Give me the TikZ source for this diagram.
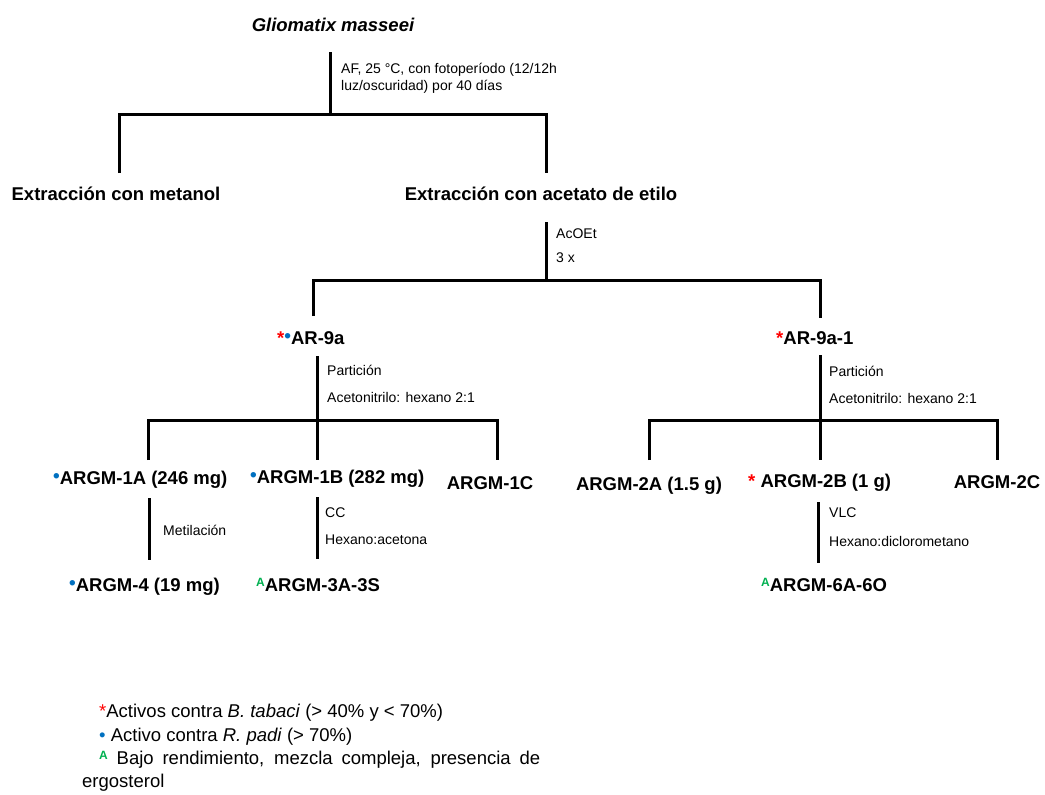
\documentclass[tikz,border=0pt]{standalone}
\usepackage{fontspec}
\setmainfont{Liberation Sans}
\definecolor{mkred}{RGB}{255,0,0}
\definecolor{mkblue}{RGB}{0,112,192}
\definecolor{mkgreen}{RGB}{0,176,80}
\newcommand{\mstar}{\textcolor{mkred}{*}}
\newcommand{\mdot}{\textcolor{mkblue}{\raisebox{2pt}{\fontsize{19}{19}\selectfont •}}}
\newcommand{\mA}{\textcolor{mkgreen}{\raisebox{5pt}{\fontsize{12}{12}\selectfont\bfseries A}}}
\begin{document}
\begin{tikzpicture}[x=1pt,y=-1pt,
  tree/.style={line width=3pt},
  big/.style={font=\fontsize{18.5}{22}\selectfont\bfseries, inner sep=0pt},
  small/.style={font=\fontsize{14}{17}\selectfont, inner sep=0pt, anchor=west},
  leg/.style={font=\fontsize{18.5}{23}\selectfont, inner sep=0pt, anchor=west}]
\useasboundingbox (0,0) rectangle (1045,795);

% ---- labels ----
\node[big, font=\fontsize{18.5}{22}\selectfont\bfseries\itshape] (g) at (333,25) {Gliomatix masseei};
\node[small] (af1) at (341,70) {AF, 25 °C, con fotoperíodo (12/12h};
\node[small] (af2) at (341,87) {luz/oscuridad) por 40 días};
\node[big] (met) at (116,194) {Extracción con metanol};
\node[big] (ace) at (541,194) {Extracción con acetato de etilo};
\node[small] (acoet) at (556,234) {AcOEt};
\node[small] (tres) at (556,258) {3 x};
\node[big, anchor=west] (ar9a) at (277,338) {\mstar\mdot AR-9a};
\node[big, anchor=west] (ar9a1) at (776,338) {\mstar AR-9a-1};
\node[small] (p1) at (327,370) {Partición};
\node[small] (p1b) at (327,397) {Acetonitrilo: hexano 2:1};
\node[small] (p2) at (829,371) {Partición};
\node[small] (p2b) at (829,398) {Acetonitrilo: hexano 2:1};
\node[big, anchor=west] (a1a) at (53,480) {\mdot ARGM-1A (246 mg)};
\node[big, anchor=west] (a1b) at (250,479) {\mdot ARGM-1B (282 mg)};
\node[big] (a1c) at (490,483) {ARGM-1C};
\node[big] (a2a) at (649,486) {ARGM-2A (1.5 g)};
\node[big, anchor=west] (a2b) at (748,483) {\mstar\ ARGM-2B (1 g)};
\node[big] (a2c) at (997,482) {ARGM-2C};
\node[small] (metil) at (163,530) {Metilación};
\node[small] (cc) at (325,513) {CC};
\node[small] (hexa) at (325,540) {Hexano:acetona};
\node[small] (vlc) at (829,513) {VLC};
\node[small] (hexd) at (829,541) {Hexano:diclorometano};
\node[big, anchor=west] (a4) at (69,587) {\mdot ARGM-4 (19 mg)};
\node[big, anchor=west] (a3) at (256,585) {\mA ARGM-3A-3S};
\node[big, anchor=west] (a6) at (761,585) {\mA ARGM-6A-6O};

% ---- legend ----
\node[leg] (l1) at (99,713) {\mstar Activos contra \textit{B. tabaci} (> 40\% y < 70\%)};
\node[leg] (l2) at (99,737) {\textcolor{mkblue}{•} Activo contra \textit{R. padi} (> 70\%)};
\node[leg] (l3) at (99,760) {\makebox[441pt][s]{\mA\ Bajo rendimiento, mezcla compleja, presencia de}};
\node[leg] (l4) at (82,783) {ergosterol};

% ---- connector points ----
\coordinate (t0) at (330,52);
\coordinate (j1) at (330,114);
\coordinate (k1) at (119,173);
\coordinate (k2) at (546,173);
\coordinate (t1) at (546,222);
\coordinate (j2) at (546,280);
\coordinate (k3) at (313,316);
\coordinate (k4) at (820,318);
\coordinate (t2) at (317,356);
\coordinate (j3) at (317,420);
\coordinate (k5) at (148,460);
\coordinate (k6) at (317,460);
\coordinate (k7) at (497,460);
\coordinate (t3) at (820,355);
\coordinate (j4) at (820,420);
\coordinate (k8) at (649,460);
\coordinate (k9) at (820,460);
\coordinate (k10) at (997,460);
\coordinate (s1) at (149,498);
\coordinate (e1) at (149,560);
\coordinate (s2) at (317,497);
\coordinate (e2) at (317,559);
\coordinate (s3) at (818,502);
\coordinate (e3) at (818,563);

% ---- connectors ----
\draw[tree] (t0) -- (j1);
\draw[tree] (k1) |- (j1) -| (k2);
\draw[tree] (t1) -- (j2);
\draw[tree] (k3) |- (j2) -| (k4);
\draw[tree] (t2) -- (j3);
\draw[tree] (k5) |- (j3) -| (k7);
\draw[tree] (j3) -- (k6);
\draw[tree] (t3) -- (j4);
\draw[tree] (k8) |- (j4) -| (k10);
\draw[tree] (j4) -- (k9);
\draw[tree] (s1) -- (e1);
\draw[tree] (s2) -- (e2);
\draw[tree] (s3) -- (e3);
\end{tikzpicture}
\end{document}
